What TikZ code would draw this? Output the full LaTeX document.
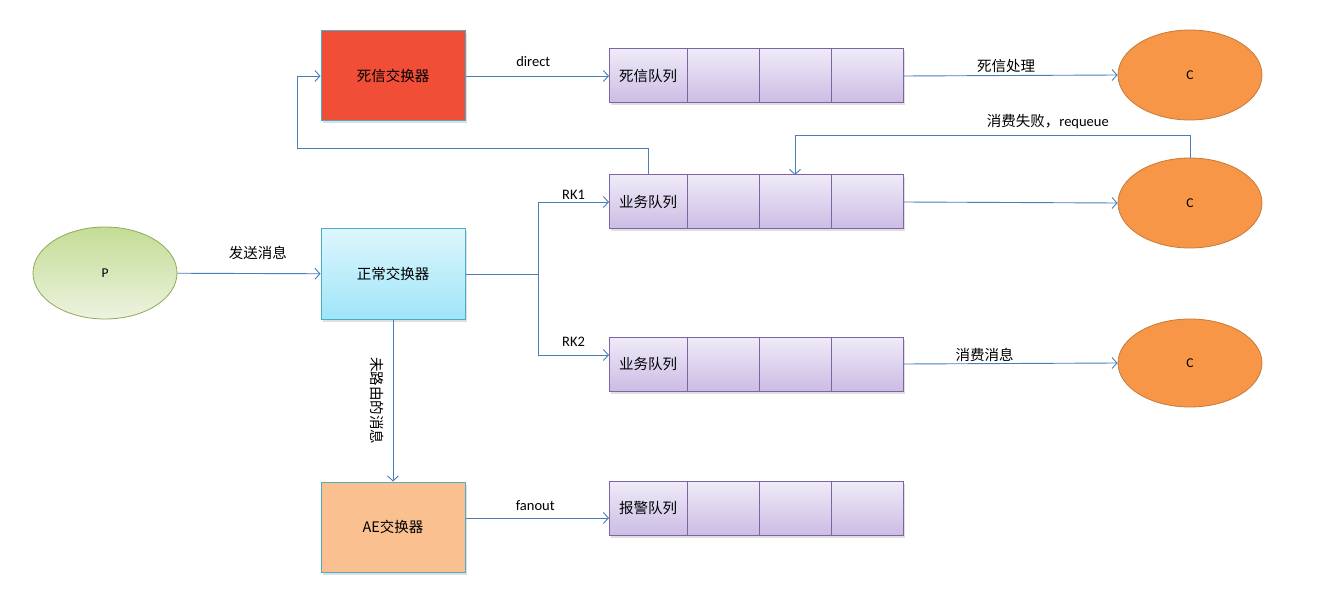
\documentclass[tikz,border=0pt]{standalone}
\usepackage{fontspec}
\setmainfont{Carlito}
\newfontfamily\cjk{Noto Sans CJK SC}
\usetikzlibrary{arrows.meta,positioning,shadows,shapes.geometric}

\definecolor{linkblue}{HTML}{4A7EBB}
\definecolor{boxline}{HTML}{4BACC6}
\definecolor{deadred}{HTML}{F04E37}
\definecolor{normtop}{HTML}{DDF6FD}
\definecolor{normbot}{HTML}{9FE5F9}
\definecolor{aeorange}{HTML}{FAC08F}
\definecolor{qtop}{HTML}{EFEBF8}
\definecolor{qbot}{HTML}{CBBCE4}
\definecolor{qline}{HTML}{8064A2}
\definecolor{ptop}{HTML}{C4DC96}
\definecolor{pbot}{HTML}{EDF3E0}
\definecolor{pline}{HTML}{8FAA52}
\definecolor{cfill}{HTML}{F79646}
\definecolor{cline}{HTML}{C77A3A}

\begin{document}
\begin{tikzpicture}[x = 1pt, y = -1pt,
        every node/.style={font=\fontsize{14.5}{17}\selectfont},
        exbox/.style={draw=boxline, line width=1pt, minimum width=144pt, minimum height=90pt,
            drop shadow={opacity=0.25, shadow xshift=1.5pt, shadow yshift=-2.5pt}, font=\cjk\fontsize{14.5}{17}\selectfont},
        cell/.style={draw=qline, line width=1pt, top color=qtop, bottom color=qbot, outer sep=0pt,
            minimum width=72pt, minimum height=54pt, inner sep=0pt,
            drop shadow={opacity=0.25, shadow xshift=1.5pt, shadow yshift=-2.5pt}, font=\cjk\fontsize{14.5}{17}\selectfont},
        client/.style={ellipse, draw=cline, line width=0.8pt, fill=cfill, minimum width=144pt, minimum height=90pt,
            font=\fontsize{13.5}{16}\selectfont},
        lbl/.style={inner sep=1pt, text=black},
        flow/.style={-{Straight Barb[length=5pt, width=11pt]}, linkblue, line width=0.9pt}
]
    \path[use as bounding box, fill=white] (0,0) rectangle (1341,596);

    % exchanges
    \node[exbox, fill=deadred] (dlx) at (393,76) {死信交换器};
    \node[exbox, top color=normtop, bottom color=normbot] (nx) at (393,274) {正常交换器};
    \node[exbox, fill=aeorange] (ae) at (393,527) {AE{\cjk 交换器}};

    % queues
    \node[cell, minimum width=78pt] (dq1) at (648,76) {死信队列};
    \node[cell, minimum width=78pt] (bqa1) at (648,202) {业务队列};
    \node[cell, minimum width=78pt] (bqb1) at (648,364) {业务队列};
    \node[cell, minimum width=78pt] (aq1) at (648,508.5) {报警队列};
    \foreach \q in {dq,bqa,bqb,aq}
        \foreach \i [remember=\i as \last (initially 1)] in {2,3,4}
            \node[cell, right=0pt of \q\last] (\q\i) {};

    % producer and consumers
    \node[ellipse, draw=pline, line width=0.8pt, top color=ptop, bottom color=pbot,
          minimum width=144pt, minimum height=92pt, font=\fontsize{13.5}{16}\selectfont] (p) at (105,273) {P};
    \node[client] (c1) at (1190,75) {C};
    \node[client] (c2) at (1190,203) {C};
    \node[client, minimum height=88pt] (c3) at (1190,363) {C};

    \coordinate (loop) at (297,148);
    \coordinate (split) at (538,274);

\begin{scope}[every node/.style={lbl, font=\fontsize{14.5}{17}\selectfont}]
    \draw[flow] (dlx) -- node [midway, above=8pt, xshift=-4pt] {direct} (dq1);
    \draw[flow] (dq4.east) -- node [pos=0.48, above=1pt] {\cjk 死信处理} (c1.west);
    \draw[flow] (bqa1.north) |- (loop) |- (dlx.west);
    \draw[flow] (p) -- node [midway, above=12pt, xshift=9pt] {\cjk 发送消息} (nx);
    \draw[linkblue, line width=0.9pt] (nx.east) -- (split);
    \draw[flow] (split) |- node [pos=0.75, above=1pt] {RK1} (bqa1.west);
    \draw[flow] (split) |- node [pos=0.75, above=7pt] {RK2} ([yshift=9pt]bqb1.west);
    \draw[flow] (bqa4.east) -- (c2.west);
    \draw[flow] (c2.north) -- ++(0,-22) -| node [pos=0.18, above=5pt] {{\cjk 消费失败，}requeue} (bqa3.north);
    \draw[flow] (bqb4.east) -- node [pos=0.38, above=1pt] {\cjk 消费消息} (c3.west);
    \draw[flow] (nx.south) -- node [midway, xshift=-16pt, rotate=-90] {\cjk 未路由的消息} (ae.north);
    \draw[flow] ([yshift=9pt]ae.east) -- node [midway, above=6pt, xshift=-2pt] {fanout} ([yshift=-9.5pt]aq1.west);
\end{scope}

\end{tikzpicture}
\end{document}
